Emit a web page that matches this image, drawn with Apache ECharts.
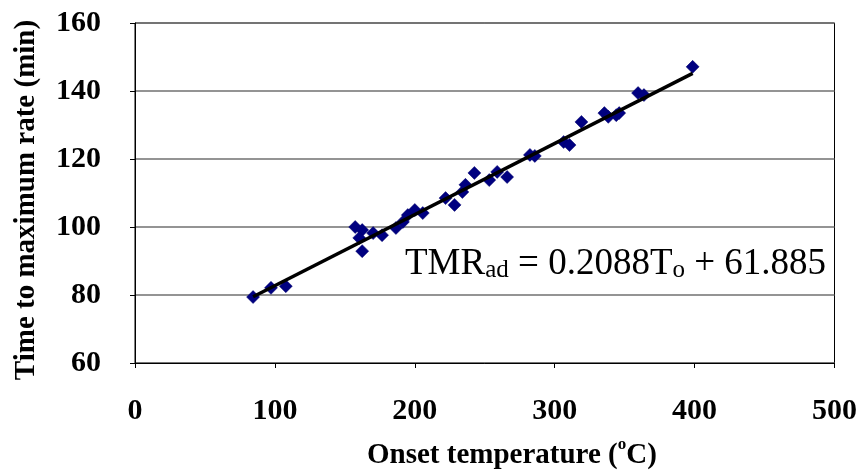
<!DOCTYPE html>
<html>
<head>
<meta charset="utf-8">
<script src="https://cdn.jsdelivr.net/npm/echarts@6/dist/echarts.min.js"></script>
<style>html,body{margin:0;padding:0;background:#fff;}#c{width:860px;height:472px;}</style>
</head>
<body>
<div id="c"></div>
<script>
// Onset temperature (°C)
var onsetT = [84.4, 97.2, 107.8, 157.4, 162.4, 160.3, 162.4, 170.2, 176.6, 186.5, 191.5, 195.0, 200.0, 205.7, 222.0, 228.4, 234.0, 236.2, 242.6, 253.2, 258.9, 266.0, 282.3, 285.8, 306.4, 310.6, 319.1, 335.5, 338.3, 344.0, 346.1, 359.6, 363.8, 398.6];
// Time to maximum rate (min)
var tmr = [79.4, 82.1, 82.6, 100.0, 99.1, 96.8, 92.9, 98.2, 97.6, 99.7, 101.5, 103.5, 105.0, 104.1, 108.5, 106.5, 110.3, 112.4, 115.9, 113.8, 116.2, 114.7, 121.2, 120.9, 125.0, 124.1, 130.9, 133.5, 132.4, 132.9, 133.5, 139.4, 138.8, 147.1];
// Trend line end points
var trendX = [84.4, 398.6];
var trendY = [79.5, 145.2];
var xTicks = [0, 100, 200, 300, 400, 500];
var yTicks = [60, 80, 100, 120, 140, 160];

var FONT = '"Liberation Serif", "Times New Roman", serif';
var pts = onsetT.map(function (x, i) { return [x, tmr[i]]; });
var line = trendX.map(function (x, i) { return [x, trendY[i]]; });

var chart = echarts.init(document.getElementById('c'), null, {renderer: 'canvas'});
chart.setOption({
  animation: false,
  backgroundColor: '#fff',
  grid: {left: 135, right: 20, top: 23, bottom: 109, show: true, borderColor: '#000', borderWidth: 1},
  xAxis: {
    type: 'value', min: xTicks[0], max: xTicks[xTicks.length - 1], interval: 100,
    axisLine: {show: true, lineStyle: {color: '#000', width: 1}},
    axisTick: {show: true, inside: false, length: 5, lineStyle: {color: '#000'}},
    splitLine: {show: false},
    axisLabel: {fontFamily: FONT, fontWeight: 'bold', fontSize: 30, color: '#000', margin: 33}
  },
  yAxis: {
    type: 'value', min: yTicks[0], max: yTicks[yTicks.length - 1], interval: 20,
    axisLine: {show: true, lineStyle: {color: '#000', width: 1}},
    axisTick: {show: true, inside: false, length: 5, lineStyle: {color: '#000'}},
    splitLine: {show: true, lineStyle: {color: '#707070', width: 1.5}},
    axisLabel: {fontFamily: FONT, fontWeight: 'bold', fontSize: 30, color: '#000', margin: 34}
  },
  series: [
    {
      type: 'scatter', data: pts, symbol: 'diamond', symbolSize: 13,
      itemStyle: {color: '#000080', borderColor: '#00006a', borderWidth: 0.5, opacity: 1},
      z: 2
    },
    {
      type: 'line', data: line, showSymbol: false, symbol: 'none',
      lineStyle: {color: '#000', width: 3.5}, z: 3
    }
  ],
  graphic: [
    {
      type: 'text', left: 405, top: 246,
      style: {
        text: '{b|TMR}{s|ad}{b| = 0.2088T}{s|o}{b| + 61.885}',
        rich: {
          b: {fontFamily: FONT, fontSize: 37, color: '#000', verticalAlign: 'bottom', lineHeight: 42},
          s: {fontFamily: FONT, fontSize: 25, color: '#000', verticalAlign: 'bottom', lineHeight: 34}
        }
      }
    },
    {
      type: 'text', left: 367, top: 436,
      style: {
        text: '{t|Onset temperature (}{p|o}{t|C)}',
        rich: {
          t: {fontFamily: FONT, fontWeight: 'bold', fontSize: 29, color: '#000', verticalAlign: 'bottom', lineHeight: 34},
          p: {fontFamily: FONT, fontWeight: 'bold', fontSize: 17, color: '#000', verticalAlign: 'top', lineHeight: 18}
        }
      }
    },
    {
      type: 'text', x: 27, y: 200, rotation: Math.PI / 2,
      style: {
        text: 'Time to maximum rate (min)', fontFamily: FONT, fontWeight: 'bold', fontSize: 29,
        fill: '#000', textAlign: 'center', textVerticalAlign: 'middle'
      }
    }
  ]
});
</script>
</body>
</html>
